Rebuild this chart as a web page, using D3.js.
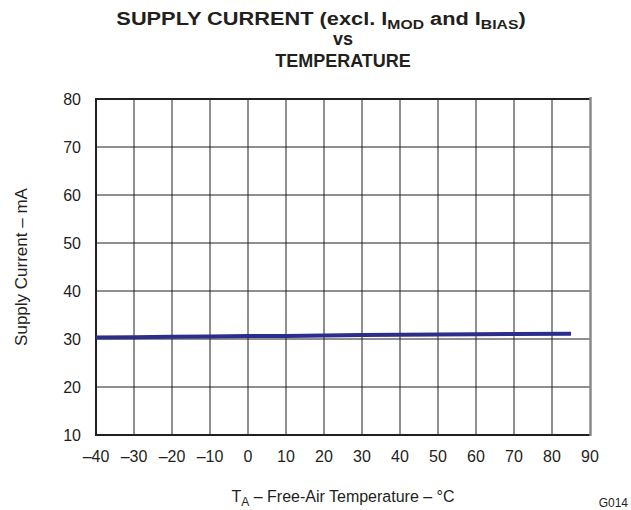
<!DOCTYPE html>
<html>
<head>
<meta charset="utf-8">
<script src="https://cdn.jsdelivr.net/npm/d3@7"></script>
<style>
  body { margin: 0; background: #fff; }
  text { font-family: "Liberation Sans", Arial, sans-serif; fill: #231f20; }
</style>
</head>
<body>
<script>
// data
var temps = [-40, -30, -20, -10, 0, 10, 20, 30, 40, 50, 60, 70, 85];
var current = [30.3, 30.35, 30.45, 30.5, 30.6, 30.65, 30.75, 30.85, 30.9, 30.95, 31.0, 31.05, 31.1];
var xTicks = [-40, -30, -20, -10, 0, 10, 20, 30, 40, 50, 60, 70, 80, 90];
var yTicks = [10, 20, 30, 40, 50, 60, 70, 80];

var width = 631, height = 510;
var plotL = 96, plotR = 590, plotT = 99, plotB = 435;

var svg = d3.select("body").append("svg")
    .attr("width", width)
    .attr("height", height);

var x = d3.scaleLinear().domain([-40, 90]).range([plotL, plotR]);
var y = d3.scaleLinear().domain([10, 80]).range([plotB, plotT]);

//grid
svg.append("g").selectAll("line")
    .data(xTicks.slice(1, -1))
    .join("line")
    .attr("x1", d => x(d)).attr("x2", d => x(d))
    .attr("y1", plotT).attr("y2", plotB)
    .attr("stroke", "#231f20").attr("stroke-width", 1);

svg.append("g").selectAll("line")
    .data(yTicks.slice(1, -1))
    .join("line")
    .attr("x1", plotL).attr("x2", plotR)
    .attr("y1", d => y(d)).attr("y2", d => y(d))
    .attr("stroke", "#231f20").attr("stroke-width", 1);

//frame
svg.append("path")
    .attr("d", "M" + plotR + "," + plotT + "H" + plotL + "V" + plotB + "H" + plotR)
    .attr("fill", "none")
    .attr("stroke", "#231f20")
    .attr("stroke-width", 2);
svg.append("line")
    .attr("x1", plotR + 0.5).attr("x2", plotR + 0.5)
    .attr("y1", plotT - 2).attr("y2", plotB + 1)
    .attr("stroke", "#8a8a8a")
    .attr("stroke-width", 2.5);

//data line
var line = d3.line()
    .x((d, i) => x(temps[i]))
    .y(d => y(d));

svg.append("path")
    .datum(current)
    .attr("d", line)
    .attr("fill", "none")
    .attr("stroke", "#2b2e8c")
    .attr("stroke-width", 4);

//tick labels
svg.append("g").selectAll("text")
    .data(xTicks)
    .join("text")
    .attr("x", d => x(d))
    .attr("y", 462)
    .attr("text-anchor", "middle")
    .attr("font-size", 16)
    .text(d => d < 0 ? "\u2013" + Math.abs(d) : d);

svg.append("g").selectAll("text")
    .data(yTicks)
    .join("text")
    .attr("x", 81)
    .attr("y", d => y(d) + 6)
    .attr("text-anchor", "end")
    .attr("font-size", 16)
    .text(d => d);

//titles (first line is drawn wider in the original)
var title = svg.append("text")
    .attr("transform", "translate(321,25) scale(1.21,1)")
    .attr("text-anchor", "middle")
    .attr("font-size", 18)
    .attr("font-weight", "bold");
title.append("tspan").text("SUPPLY CURRENT (excl. I");
title.append("tspan").attr("font-size", 13).attr("dy", 4).text("MOD");
title.append("tspan").attr("dy", -4).text(" and I");
title.append("tspan").attr("font-size", 13).attr("dy", 4).text("BIAS");
title.append("tspan").attr("dy", -4).text(")");

svg.append("text")
    .attr("x", 343).attr("y", 45)
    .attr("text-anchor", "middle")
    .attr("font-size", 18)
    .attr("font-weight", "bold")
    .text("vs");

svg.append("text")
    .attr("x", 343).attr("y", 67)
    .attr("text-anchor", "middle")
    .attr("font-size", 18)
    .attr("font-weight", "bold")
    .text("TEMPERATURE");

var xt = svg.append("text")
    .attr("x", 343).attr("y", 502)
    .attr("text-anchor", "middle")
    .attr("font-size", 16);
xt.append("tspan").text("T");
xt.append("tspan").attr("font-size", 12).attr("dy", 4).text("A");
xt.append("tspan").attr("dy", -4).text(" \u2013 Free-Air Temperature \u2013 \u00b0C");

svg.append("text")
    .attr("transform", "translate(27," + y(45) + ") rotate(-90)")
    .attr("text-anchor", "middle")
    .attr("font-size", 17)
    .text("Supply Current \u2013 mA");

svg.append("text")
    .attr("x", 628).attr("y", 507)
    .attr("text-anchor", "end")
    .attr("font-size", 12)
    .text("G014");
</script>
</body>
</html>
